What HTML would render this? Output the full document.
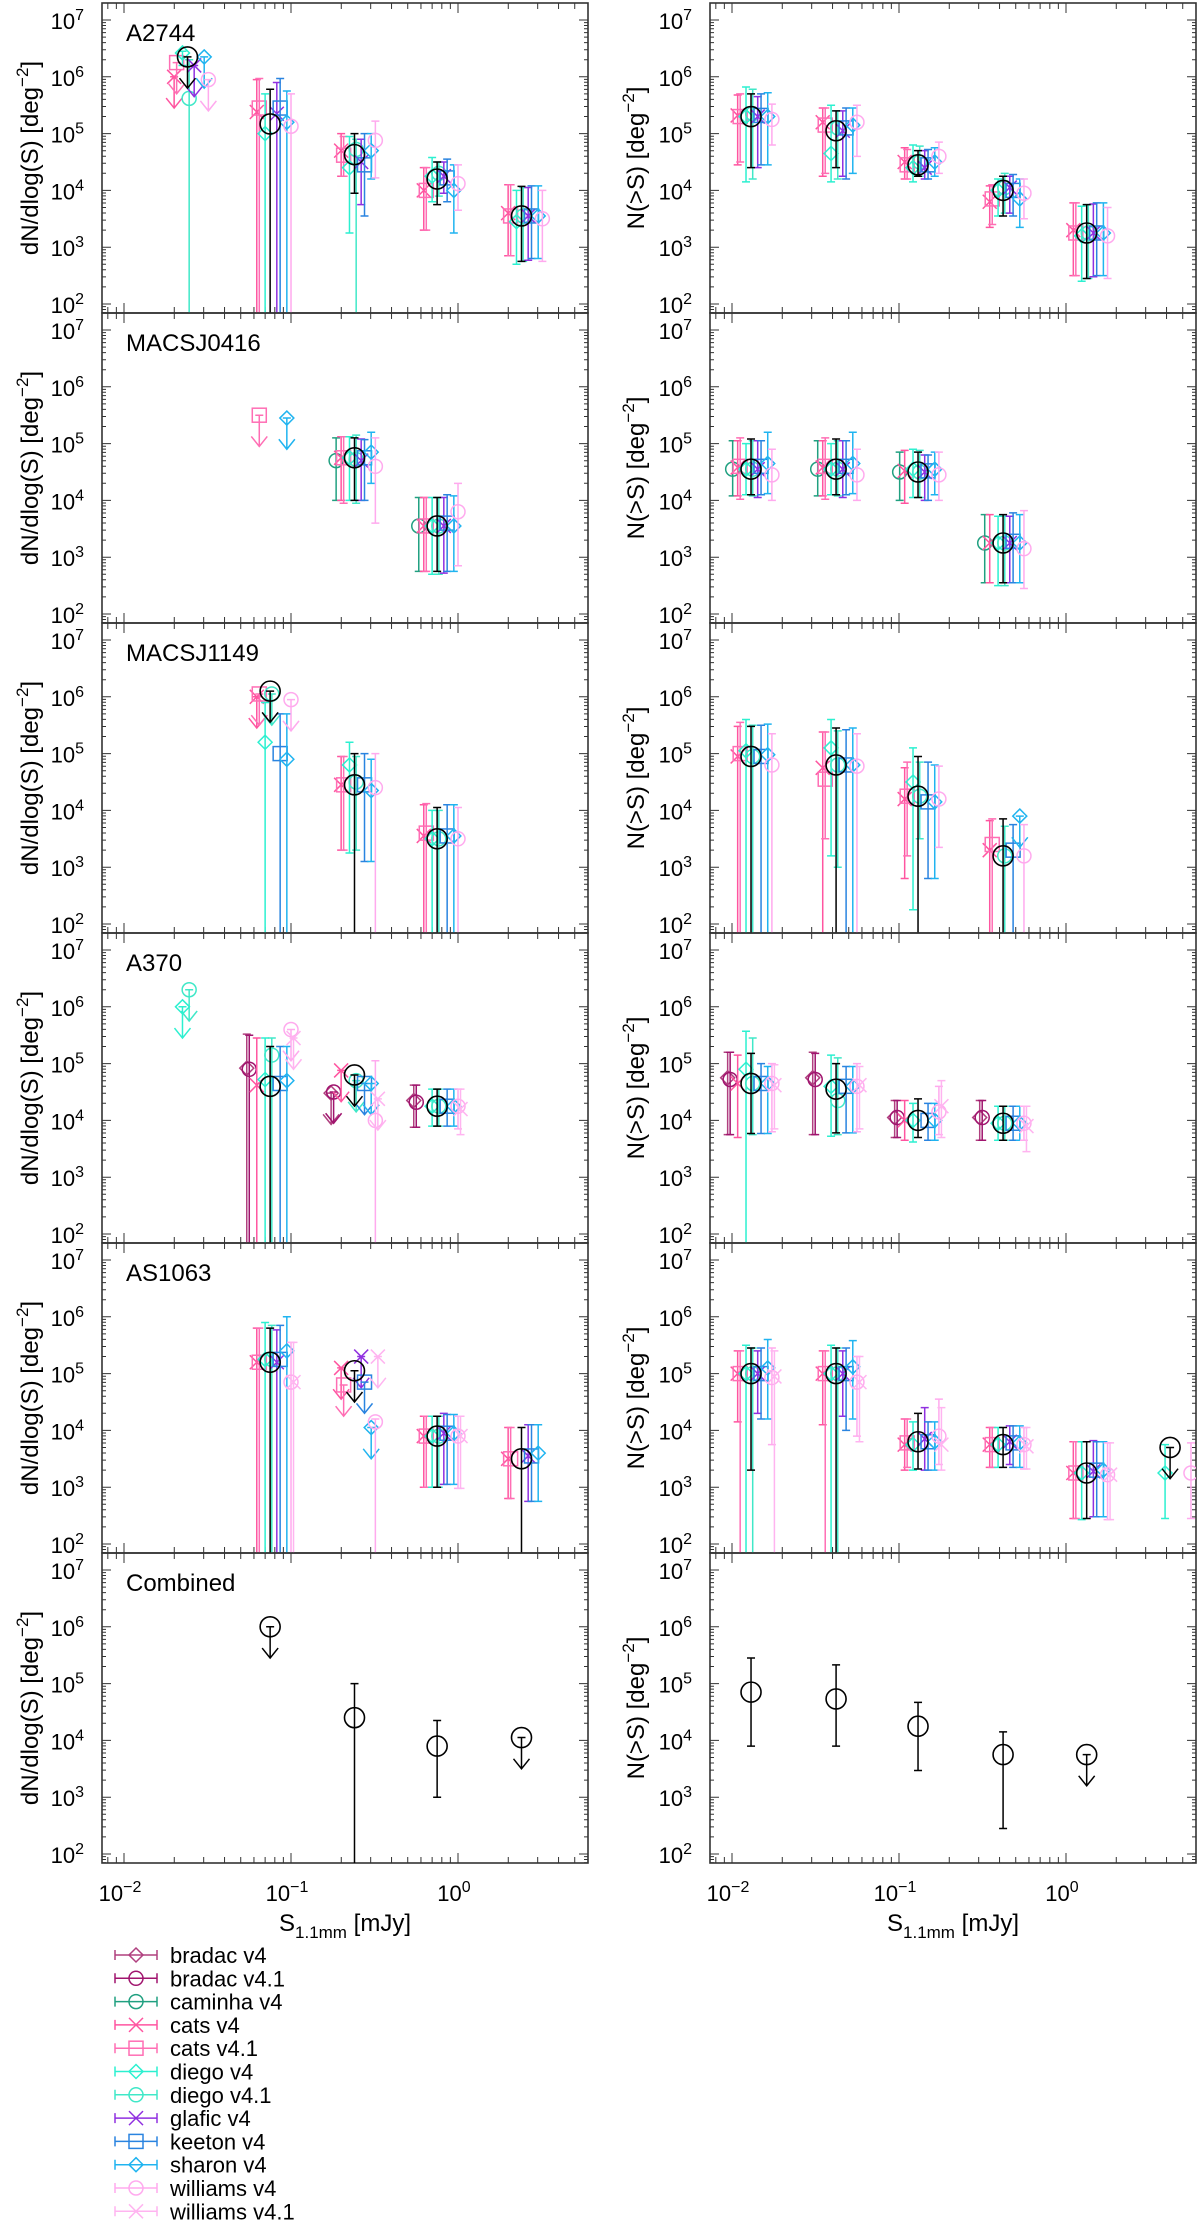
<!DOCTYPE html>
<html><head><meta charset="utf-8"><title>Number counts</title>
<style>
html,body{margin:0;padding:0;background:#fff;}
svg{display:block;font-family:"Liberation Sans",sans-serif;}
</style></head>
<body>
<svg id="fig" width="1200" height="2238" viewBox="0 0 1200 2238" xmlns="http://www.w3.org/2000/svg"></svg>
<script>
// ---------- data ----------
const seriesNames = ["bradac v4","bradac v4.1","caminha v4","cats v4","cats v4.1","diego v4","diego v4.1","glafic v4","keeton v4","sharon v4","williams v4","williams v4.1","combined"];
const seriesColors = ["#b0407f","#a0146e","#20a080","#ff55a0","#ff6eb4","#2cf0d0","#40e8c8","#9030e0","#2a84e0","#20b4f0","#ffaaee","#ffb4f0","#000000"];
const seriesMarkers = ["diamond","circle","circle","x","square","diamond","circle","x","square","diamond","circle","x","bigcircle"];
const seriesOffsets = [-0.14,-0.125,-0.11,-0.08,-0.065,-0.03,0.01,0.04,0.06,0.1,0.125,0.14,0];
const clusterNames = ["A2744","MACSJ0416","MACSJ1149","A370","AS1063","Combined"];
const binsDiff = [0.024,0.075,0.24,0.75,2.4];
const binsCum = [0.013,0.042,0.13,0.42,1.33,4.2];
const yTickExps = [2,3,4,5,6,7];
const xTickExps = [-2,-1,0];
// entries: [series, bin, log10 value, log10 lower, log10 upper, upperLimit]
const a2744Diff = [
 [3,0,6.0,null,null,1],[4,0,6.25,null,null,1],[5,0,6.42,6.2,6.45,0],[6,0,5.62,1,6.3,0],[12,0,6.35,null,null,1],[7,0,6.2,null,null,1],[9,0,6.35,null,null,1],[10,0,5.95,null,null,1],
 [3,1,5.38,1,5.95,0],[4,1,5.45,1,5.97,0],[5,1,5.0,1,5.7,0],[12,1,5.17,1,5.78,0],[7,1,5.35,1,5.9,0],[8,1,5.45,1,5.97,0],[9,1,5.2,1,5.75,0],[10,1,5.13,1,5.7,0],
 [3,2,4.7,4.25,5.0,0],[4,2,4.62,4.25,4.95,0],[5,2,4.4,3.25,4.95,0],[6,2,4.72,1,4.9,0],[12,2,4.63,3.95,5.0,0],[7,2,4.5,3.75,4.9,0],[8,2,4.45,3.55,5.0,0],[9,2,4.7,4.2,5.0,0],[10,2,4.88,4.22,5.22,0],
 [3,3,4.0,3.3,4.4,0],[4,3,4.0,3.3,4.4,0],[5,3,4.25,3.8,4.58,0],[6,3,4.3,3.9,4.5,0],[12,3,4.2,3.75,4.5,0],[7,3,4.25,3.95,4.5,0],[8,3,4.22,3.8,4.55,0],[9,3,4.0,3.25,4.45,0],[10,3,4.12,3.65,4.45,0],
 [3,4,3.6,2.85,4.1,0],[4,4,3.55,2.85,4.1,0],[5,4,3.45,2.7,4.0,0],[6,4,3.55,2.75,4.05,0],[12,4,3.55,2.75,4.07,0],[7,4,3.55,2.77,4.05,0],[8,4,3.55,2.8,4.08,0],[9,4,3.55,2.8,4.08,0],[10,4,3.5,2.75,4.0,0]
];
const a2744Cum = [
 [3,0,5.32,4.45,5.68,0],[4,0,5.3,4.5,5.7,0],[5,0,5.3,4.15,5.82,0],[6,0,5.35,4.2,5.78,0],[12,0,5.3,4.4,5.7,0],[7,0,5.3,4.4,5.65,0],[8,0,5.32,4.45,5.7,0],[9,0,5.3,4.45,5.72,0],[10,0,5.25,4.8,5.52,0],
 [3,1,5.2,4.25,5.45,0],[4,1,5.15,4.3,5.45,0],[5,1,4.65,4.15,5.5,0],[6,1,5.1,4.2,5.4,0],[12,1,5.05,4.4,5.4,0],[7,1,5.05,4.25,5.4,0],[8,1,5.1,4.2,5.45,0],[9,1,5.15,4.3,5.45,0],[10,1,5.2,4.6,5.5,0],
 [3,2,4.5,4.2,4.75,0],[4,2,4.45,4.2,4.72,0],[5,2,4.4,4.15,4.8,0],[6,2,4.5,4.25,4.78,0],[12,2,4.45,4.25,4.7,0],[7,2,4.4,4.2,4.7,0],[8,2,4.45,4.2,4.72,0],[9,2,4.5,4.25,4.75,0],[10,2,4.6,4.3,4.85,0],
 [3,3,3.8,3.35,4.08,0],[4,3,3.85,3.4,4.1,0],[5,3,4.0,3.55,4.2,0],[6,3,4.05,3.6,4.3,0],[12,3,4.0,3.55,4.25,0],[7,3,4.05,3.6,4.25,0],[8,3,4.0,3.55,4.28,0],[9,3,3.85,3.35,4.2,0],[10,3,3.95,3.5,4.2,0],
 [3,4,3.3,2.5,3.78,0],[4,4,3.25,2.5,3.78,0],[5,4,3.2,2.4,3.72,0],[6,4,3.25,2.45,3.75,0],[12,4,3.25,2.45,3.75,0],[7,4,3.25,2.48,3.76,0],[8,4,3.25,2.5,3.78,0],[9,4,3.25,2.5,3.78,0],[10,4,3.2,2.45,3.7,0]
];
const m0416Diff = [
 [4,1,5.5,null,null,1],[9,1,5.45,null,null,1],
 [2,2,4.7,4.0,5.1,0],[3,2,4.75,4.0,5.12,0],[4,2,4.75,3.95,5.12,0],[5,2,4.75,4.0,5.12,0],[6,2,4.72,3.95,5.15,0],[12,2,4.75,4.0,5.1,0],[7,2,4.7,4.0,5.08,0],[8,2,4.75,4.0,5.07,0],[9,2,4.85,4.3,5.2,0],[10,2,4.6,3.6,5.1,0],
 [2,3,3.55,2.75,4.05,0],[3,3,3.55,2.75,4.05,0],[4,3,3.55,2.75,4.05,0],[5,3,3.55,2.7,4.05,0],[6,3,3.55,2.7,4.05,0],[12,3,3.55,2.75,4.05,0],[7,3,3.55,2.72,4.05,0],[8,3,3.6,2.75,4.1,0],[9,3,3.55,2.75,4.08,0],[10,3,3.8,2.85,4.3,0]
];
const m0416Cum = [
 [2,0,4.55,4.08,5.05,0],[3,0,4.58,4.08,5.05,0],[4,0,4.6,4.02,5.1,0],[5,0,4.55,4.1,5.0,0],[6,0,4.55,4.08,5.05,0],[12,0,4.55,4.1,5.08,0],[7,0,4.55,4.05,5.05,0],[8,0,4.6,4.1,5.05,0],[9,0,4.65,4.12,5.2,0],[10,0,4.45,4.0,4.9,0],
 [2,1,4.55,4.08,5.05,0],[3,1,4.58,4.08,5.05,0],[4,1,4.6,4.02,5.1,0],[5,1,4.55,4.1,5.0,0],[6,1,4.55,4.08,5.05,0],[12,1,4.55,4.1,5.08,0],[7,1,4.55,4.05,5.05,0],[8,1,4.6,4.1,5.05,0],[9,1,4.65,4.12,5.2,0],[10,1,4.45,4.0,4.9,0],
 [2,2,4.5,4.0,4.85,0],[3,2,4.52,3.95,4.88,0],[5,2,4.55,4.05,4.9,0],[6,2,4.5,4.05,4.88,0],[12,2,4.5,4.05,4.85,0],[7,2,4.5,4.0,4.8,0],[8,2,4.52,4.0,4.8,0],[9,2,4.55,4.1,4.85,0],[10,2,4.45,4.0,4.85,0],
 [2,3,3.25,2.55,3.75,0],[3,3,3.25,2.55,3.75,0],[5,3,3.25,2.5,3.72,0],[6,3,3.25,2.5,3.72,0],[12,3,3.25,2.55,3.75,0],[7,3,3.25,2.55,3.72,0],[8,3,3.28,2.55,3.78,0],[9,3,3.25,2.55,3.75,0],[10,3,3.15,2.45,3.82,0]
];
const m1149Diff = [
 [3,1,6.0,null,null,1],[4,1,6.05,null,null,1],[5,1,5.2,1,5.9,0],[6,1,6.05,null,null,1],[12,1,6.1,null,null,1],[8,1,5.0,1,5.7,0],[9,1,4.9,1,5.7,0],[10,1,5.95,null,null,1],
 [3,2,4.45,3.3,4.95,0],[4,2,4.45,3.3,4.95,0],[5,2,4.8,3.25,5.2,0],[6,2,4.5,3.3,4.95,0],[12,2,4.45,1,5.0,0],[8,2,4.45,3.1,5.0,0],[9,2,4.35,3.1,4.9,0],[10,2,4.4,1,5.0,0],
 [3,3,3.55,1,4.1,0],[4,3,3.6,1,4.12,0],[5,3,3.5,1,4.0,0],[6,3,3.5,1,4.0,0],[12,3,3.5,1,4.05,0],[8,3,3.55,1,4.1,0],[9,3,3.55,1,4.1,0],[10,3,3.5,1,4.05,0]
];
const m1149Cum = [
 [3,0,4.95,1,5.48,0],[4,0,5.0,1,5.55,0],[5,0,5.05,1,5.6,0],[6,0,4.95,1,5.5,0],[12,0,4.95,1,5.48,0],[8,0,4.95,1,5.5,0],[9,0,4.98,1,5.52,0],[10,0,4.8,1,5.35,0],
 [3,1,4.75,1,5.38,0],[4,1,4.55,3.5,5.38,0],[5,1,5.1,3.2,5.6,0],[6,1,4.8,3.0,5.4,0],[12,1,4.8,1,5.45,0],[8,1,4.8,1,5.42,0],[9,1,4.8,1,5.45,0],[10,1,4.78,1,5.35,0],
 [3,2,4.2,2.8,4.75,0],[4,2,4.25,3.2,4.85,0],[5,2,4.5,2.25,5.1,0],[6,2,4.25,3.5,4.85,0],[12,2,4.25,1,4.95,0],[8,2,4.15,2.8,4.85,0],[9,2,4.15,2.8,4.8,0],[10,2,4.2,3.35,4.78,0],
 [3,3,3.3,1,3.82,0],[4,3,3.4,1,3.85,0],[6,3,3.2,1,3.72,0],[12,3,3.2,1,3.85,0],[8,3,3.3,1,3.75,0],[9,3,3.9,null,null,1],[10,3,3.2,1,3.75,0]
];
const a370Diff = [
 [6,0,6.3,null,null,1],[5,0,6.0,null,null,1],
 [0,1,4.92,1,5.52,0],[1,1,4.9,1,5.5,0],[3,1,4.62,1,5.45,0],[5,1,4.72,1,5.45,0],[6,1,5.15,1,5.45,0],[12,1,4.6,1,5.3,0],[8,1,4.65,1,5.3,0],[9,1,4.7,1,5.3,0],[10,1,5.6,null,null,1],[11,1,5.45,null,null,1],
 [0,2,4.48,null,null,1],[1,2,4.5,null,null,1],[3,2,4.88,null,null,1],[6,2,4.7,null,null,1],[12,2,4.8,null,null,1],[8,2,4.65,null,null,1],[9,2,4.65,null,null,1],[10,2,4.0,1,5.05,0],[11,2,4.38,null,null,1],
 [0,3,4.35,3.88,4.62,0],[1,3,4.32,3.88,4.62,0],[5,3,4.25,3.9,4.55,0],[6,3,4.25,3.9,4.55,0],[12,3,4.25,3.9,4.55,0],[8,3,4.25,3.9,4.55,0],[9,3,4.25,3.9,4.55,0],[10,3,4.25,3.85,4.55,0],[11,3,4.2,3.75,4.55,0]
];
const a370Cum = [
 [0,0,4.75,3.75,5.2,0],[1,0,4.72,3.75,5.2,0],[3,0,4.65,3.7,5.15,0],[5,0,4.9,1,5.57,0],[6,0,4.65,3.75,5.45,0],[12,0,4.65,3.77,5.18,0],[8,0,4.65,3.77,5.0,0],[9,0,4.65,3.77,4.95,0],[10,0,4.65,3.8,5.0,0],[11,0,4.62,3.85,4.98,0],
 [0,1,4.75,3.75,5.2,0],[1,1,4.72,3.75,5.18,0],[5,1,4.6,3.72,5.15,0],[6,1,4.35,3.75,5.1,0],[12,1,4.55,3.78,5.0,0],[8,1,4.6,3.78,4.95,0],[9,1,4.6,3.78,4.95,0],[10,1,4.6,3.8,5.0,0],[11,1,4.62,3.85,4.95,0],
 [0,2,4.05,3.7,4.35,0],[1,2,4.05,3.7,4.35,0],[3,2,4.0,3.65,4.35,0],[5,2,4.0,3.62,4.3,0],[12,2,4.0,3.7,4.38,0],[8,2,4.0,3.65,4.3,0],[9,2,4.0,3.65,4.3,0],[10,2,4.15,3.75,4.6,0],[11,2,4.25,3.7,4.7,0],
 [0,3,4.05,3.65,4.35,0],[1,3,4.05,3.65,4.35,0],[5,3,3.95,3.65,4.25,0],[6,3,3.95,3.65,4.25,0],[12,3,3.95,3.65,4.25,0],[8,3,3.95,3.65,4.25,0],[9,3,3.95,3.65,4.25,0],[10,3,3.95,3.65,4.25,0],[11,3,3.9,3.45,4.25,0]
];
const as1063Diff = [
 [3,1,5.2,1,5.8,0],[4,1,5.2,1,5.8,0],[5,1,5.25,1,5.9,0],[6,1,5.25,1,5.85,0],[12,1,5.2,1,5.8,0],[7,1,5.2,1,5.77,0],[8,1,5.25,1,5.85,0],[9,1,5.4,1,6.0,0],[10,1,4.85,1,5.55,0],[11,1,4.85,1,5.55,0],
 [3,2,5.1,null,null,1],[4,2,4.8,null,null,1],[12,2,5.05,null,null,1],[7,2,5.3,null,null,1],[8,2,4.85,null,null,1],[9,2,4.05,null,null,1],[10,2,4.15,1,4.2,0],[11,2,5.3,null,null,1],
 [3,3,3.9,3.0,4.25,0],[4,3,3.9,3.0,4.25,0],[5,3,3.9,3.0,4.25,0],[6,3,3.9,3.0,4.25,0],[12,3,3.9,3.0,4.25,0],[7,3,3.95,3.05,4.3,0],[8,3,3.95,3.05,4.28,0],[9,3,3.95,3.05,4.28,0],[10,3,3.9,2.98,4.25,0],[11,3,3.9,2.98,4.25,0],
 [3,4,3.5,2.8,4.05,0],[4,4,3.5,2.8,4.05,0],[12,4,3.5,1,4.05,0],[7,4,3.55,2.75,4.1,0],[8,4,3.55,2.75,4.1,0],[9,4,3.6,2.75,4.1,0]
];
const as1063Cum = [
 [3,0,5.0,4.15,5.4,0],[4,0,5.0,1,5.4,0],[5,0,5.0,1,5.5,0],[6,0,5.0,1,5.45,0],[12,0,5.0,3.3,5.45,0],[7,0,5.0,4.3,5.4,0],[8,0,5.0,4.2,5.45,0],[9,0,5.1,4.2,5.6,0],[10,0,4.93,3.75,5.45,0],[11,0,4.95,1,5.4,0],
 [3,1,5.0,4.1,5.4,0],[4,1,5.0,1,5.4,0],[5,1,5.0,1,5.5,0],[6,1,5.0,1,5.45,0],[12,1,5.0,1,5.45,0],[7,1,5.0,4.25,5.4,0],[8,1,5.0,4.0,5.45,0],[9,1,5.12,4.2,5.58,0],[10,1,4.85,3.9,5.3,0],[11,1,4.85,3.8,5.3,0],
 [3,2,3.75,3.3,4.2,0],[4,2,3.78,3.35,4.2,0],[5,2,3.75,3.3,4.15,0],[12,2,3.8,3.32,4.3,0],[7,2,3.85,3.3,4.4,0],[8,2,3.8,3.3,4.15,0],[9,2,3.8,3.3,4.15,0],[10,2,3.9,3.4,4.55,0],[11,2,3.75,3.3,4.4,0],
 [3,3,3.75,3.35,4.05,0],[4,3,3.75,3.35,4.05,0],[5,3,3.75,3.35,4.05,0],[12,3,3.75,3.35,4.05,0],[7,3,3.8,3.4,4.08,0],[8,3,3.78,3.35,4.08,0],[9,3,3.78,3.35,4.08,0],[10,3,3.75,3.32,4.05,0],[11,3,3.72,3.32,4.05,0],
 [3,4,3.25,2.45,3.8,0],[4,4,3.25,2.45,3.8,0],[5,4,3.25,2.43,3.8,0],[12,4,3.25,2.45,3.8,0],[7,4,3.28,2.48,3.82,0],[8,4,3.3,2.48,3.8,0],[9,4,3.3,2.48,3.8,0],[10,4,3.22,2.43,3.78,0],[11,4,3.22,2.43,3.78,0],
 [5,5,3.25,2.45,3.75,0],[12,5,3.7,null,null,1],[10,5,3.25,2.45,3.78,0]
];
const combDiff = [[12,1,6.0,null,null,1],[12,2,4.4,1,5.0,0],[12,3,3.9,3.0,4.35,0],[12,4,4.05,null,null,1]];
const combCum = [[12,0,4.85,3.9,5.45,0],[12,1,4.73,3.9,5.33,0],[12,2,4.25,3.47,4.67,0],[12,3,3.75,2.45,4.15,0],[12,4,3.75,null,null,1]];
const panelDiff = [a2744Diff,m0416Diff,m1149Diff,a370Diff,as1063Diff,combDiff];
const panelCum = [a2744Cum,m0416Cum,m1149Cum,a370Cum,as1063Cum,combCum];

// ---------- geometry ----------
const NS = "http://www.w3.org/2000/svg";
const svg = document.getElementById("fig");
const PH = 310, PT0 = 3, DEC_Y = 56.8, DEC_X = 167;
const cols = [{x0:102,x1:588,ref:124,bins:binsDiff,data:panelDiff,label:"dN/dlog(S) [deg",labX:30},
              {x0:710,x1:1196,ref:732,bins:binsCum,data:panelCum,label:"N(>S) [deg",labX:636}];
const YMIN = 2 - 9/DEC_Y, YMAX = 7 + 17/DEC_Y;
const XMIN = -2 - 22/DEC_X, XMAX = (588-124)/DEC_X - 2;
function xScale(col, lx){ return col.ref + (lx + 2) * DEC_X; }
function yScale(p, ly){ return PT0 + p*PH + 17 + (7 - ly) * DEC_Y; }
function el(tag, attrs, parent){ const e=document.createElementNS(NS,tag); for(const k in attrs) e.setAttribute(k,attrs[k]); (parent||svg).appendChild(e); return e; }

function drawMarker(g, type, cx, cy, color){
  let m;
  const s = 7;
  if(type==="diamond") m = el("polygon",{points:`${cx},${cy-s} ${cx+s},${cy} ${cx},${cy+s} ${cx-s},${cy}`,fill:"none",stroke:color,"stroke-width":1.5},g);
  else if(type==="circle") m = el("circle",{cx:cx,cy:cy,r:s,fill:"none",stroke:color,"stroke-width":1.5},g);
  else if(type==="square") m = el("rect",{x:cx-s,y:cy-s,width:2*s,height:2*s,fill:"none",stroke:color,"stroke-width":1.5},g);
  else if(type==="x") m = el("path",{d:`M${cx-s},${cy-s}L${cx+s},${cy+s}M${cx-s},${cy+s}L${cx+s},${cy-s}`,fill:"none",stroke:color,"stroke-width":1.5},g);
  else m = el("circle",{cx:cx,cy:cy,r:10,fill:"none",stroke:color,"stroke-width":1.6},g);
  
  
  return m;
}

for(let p=0;p<6;p++){
  for(let c=0;c<2;c++){
    const col = cols[c];
    const top = PT0 + p*PH, bot = top + PH;
    const panel = el("g",{});
    
    
    const cid = "clip"+p+"_"+c;
    const cp = el("clipPath",{id:cid},panel);
    el("rect",{x:col.x0,y:top,width:col.x1-col.x0,height:PH},cp);
    // ticks
    const ticks = el("g",{stroke:"#333","stroke-width":1},panel);
    
    
    let d = "";
    for(let e=1;e<=7;e++) for(let k=1;k<10;k++){
      const ly = e + Math.log10(k); if(ly<YMIN||ly>YMAX) continue;
      const y = yScale(p,ly), L = k===1?9:4;
      d += `M${col.x0},${y}h${L}M${col.x1},${y}h${-L}`;
    }
    for(let e=-3;e<=0;e++) for(let k=1;k<10;k++){
      const lx = e + Math.log10(k); if(lx<XMIN||lx>XMAX) continue;
      const x = xScale(col,lx), L = k===1?10:6;
      d += `M${x},${bot}v${-L}M${x},${top}v${L}`;
    }
    el("path",{d:d},ticks);
    // frame
    const fr = el("rect",{x:col.x0,y:top,width:col.x1-col.x0,height:PH,fill:"none",stroke:"#333","stroke-width":1.6},panel);
    
    
    // y tick labels
    yTickExps.forEach(ex=>{
      const t = el("text",{x:col.x0-18,y:yScale(p,ex)+9,"text-anchor":"end","font-size":22,fill:"#000"},panel);
      
      
      t.appendChild(document.createTextNode("10"));
      const sp = el("tspan",{dy:-9,"font-size":16},t); sp.textContent = String(ex);
    });
    // y axis title
    const yt = el("text",{transform:`translate(${col.labX+8},${top+PH/2}) rotate(-90)`,"text-anchor":"middle","font-size":24,fill:"#000"},panel);
    
    
    yt.appendChild(document.createTextNode(col.label));
    const s1 = el("tspan",{dy:-10,"font-size":17},yt); s1.textContent = "\u22122";
    const s2 = el("tspan",{dy:10},yt); s2.textContent = "]";
    // cluster title
    if(c===0){
      const ct = el("text",{x:126,y:top+38,"font-size":24,fill:"#000"},panel);
      
      
      ct.textContent = clusterNames[p];
    }
    // data
    const dg = el("g",{"clip-path":`url(#${cid})`},panel);
    
    
    const rows = col.data[p].slice().sort((a,b)=>(a[0]===12)-(b[0]===12));
    rows.forEach(r=>{
      const [s,bin,v,lo,hi,ul] = r;
      const color = seriesColors[s];
      const lx = Math.log10(col.bins[bin]) + seriesOffsets[s];
      const x = xScale(col,lx), y = yScale(p,v);
      const g = el("g",{stroke:color,fill:"none","stroke-width":1.5},dg);
      
      
      if(ul){
        const y2 = yScale(p, v-0.55);
        el("path",{d:`M${x-4},${y}h8M${x},${y}V${y2}M${x-8},${y2-10}L${x},${y2}L${x+8},${y2-10}`},g);
      } else {
        const yl = yScale(p,lo), yh = yScale(p,hi);
        el("path",{d:`M${x},${yl}V${yh}M${x-4},${yl}h8M${x-4},${yh}h8`},g);
      }
      drawMarker(g, seriesMarkers[s], x, y, color);
    });
    // x tick labels (bottom panel only)
    if(p===5){
      xTickExps.forEach(ex=>{
        const t = el("text",{x:xScale(col,ex)-4,y:bot+38,"text-anchor":"middle","font-size":22,fill:"#000"},panel);
        
        
        t.appendChild(document.createTextNode("10"));
        const sp = el("tspan",{dy:-9,"font-size":16},t); sp.textContent = ex===0?"0":"\u2212"+(-ex);
      });
      const xt = el("text",{x:(col.x0+col.x1)/2,y:bot+68,"text-anchor":"middle","font-size":24,fill:"#000"},panel);
      
      
      xt.appendChild(document.createTextNode("S"));
      const sb = el("tspan",{dy:7,"font-size":17},xt); sb.textContent = "1.1mm";
      const sb2 = el("tspan",{dy:-7},xt); sb2.textContent = " [mJy]";
    }
  }
}

// legend
const leg = el("g",{});


for(let i=0;i<12;i++){
  const y = 1955 + i*23.3;
  const g = el("g",{stroke:seriesColors[i],fill:"none","stroke-width":1.5},leg);
  
  
  el("path",{d:`M115,${y}H157M115,${y-5}v10M157,${y-5}v10`},g);
  drawMarker(g, seriesMarkers[i], 136, y, seriesColors[i]);
  const t = el("text",{x:170,y:y+8,"font-size":22,fill:"#000",stroke:"none"},leg);
  
  
  t.textContent = seriesNames[i];
}
</script>
</body></html>
